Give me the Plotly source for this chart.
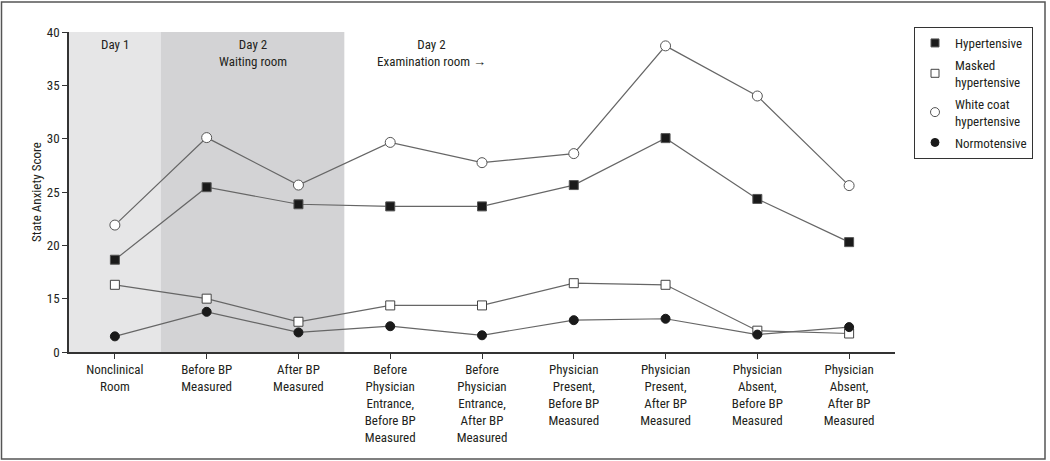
import plotly.graph_objects as go

categories = [
    "Nonclinical<br>Room",
    "Before BP<br>Measured",
    "After BP<br>Measured",
    "Before<br>Physician<br>Entrance,<br>Before BP<br>Measured",
    "Before<br>Physician<br>Entrance,<br>After BP<br>Measured",
    "Physician<br>Present,<br>Before BP<br>Measured",
    "Physician<br>Present,<br>After BP<br>Measured",
    "Physician<br>Absent,<br>Before BP<br>Measured",
    "Physician<br>Absent,<br>After BP<br>Measured",
]
hypertensive = [18.65, 25.45, 23.85, 23.65, 23.65, 25.65, 30.05, 24.35, 20.3]
masked = [16.3, 15.0, 8.5, 13.1, 13.1, 16.45, 16.3, 6.0, 5.2]
white_coat = [21.9, 30.1, 25.65, 29.65, 27.75, 28.6, 38.7, 34.0, 25.6]
normotensive = [4.4, 11.3, 5.5, 7.25, 4.7, 8.95, 9.35, 4.9, 7.0]

tick_values = [0, 15, 20, 25, 30, 35, 40]
tick_labels = ["0", "15", "20", "25", "30", "35", "40"]

FONT = "Liberation Sans Narrow, Arial Narrow, Roboto Condensed, sans-serif"
TXT = "#231f20"
LINE = "#666666"


def to_axis(v):
    # compressed (broken) scale below 15
    return v if v >= 15 else 10 + v / 3.0


xs = list(range(len(categories)))

series = [
    ("Hypertensive", hypertensive, "square", "#1a1a1a", "#555555", 9),
    ("Masked<br>hypertensive", masked, "square", "white", "#444444", 9),
    ("White coat<br>hypertensive", white_coat, "circle", "white", "#555555", 10),
    ("Normotensive", normotensive, "circle", "#1a1a1a", "#1a1a1a", 9),
]

fig = go.Figure()
for name, vals, sym, fill, edge, size in series:
    fig.add_trace(go.Scatter(
        x=xs, y=[to_axis(v) for v in vals], mode="lines+markers",
        line=dict(color=LINE, width=1.2),
        marker=dict(symbol=sym, size=size, color=fill, line=dict(color=edge, width=1)),
        showlegend=False, legendgroup=name, cliponaxis=False,
    ))
for name, vals, sym, fill, edge, size in series:
    fig.add_trace(go.Scatter(
        x=[None], y=[None], mode="markers", name=name, legendgroup=name,
        marker=dict(symbol=sym, size=size - 1, color=fill, line=dict(color=edge, width=1)),
    ))

# background shading
fig.add_shape(type="rect", xref="x", yref="paper", x0=-0.5, x1=0.5, y0=0, y1=1,
              fillcolor="#e6e6e7", line_width=0, layer="below")
fig.add_shape(type="rect", xref="x", yref="paper", x0=0.5, x1=2.5, y0=0, y1=1,
              fillcolor="#d3d3d5", line_width=0, layer="below")
# outer frame
fig.add_shape(type="rect", xref="paper", yref="paper",
              x0=(1.5 - 69) / 826, x1=(1045 - 69) / 826,
              y0=-(459 - 352) / 320, y1=1 + (32 - 2) / 320,
              line=dict(color="#555555", width=1.5), fillcolor="rgba(0,0,0,0)")

ann_font = dict(family=FONT, size=13, color=TXT)
fig.add_annotation(x=0, y=1, xref="x", yref="paper", text="Day 1", showarrow=False,
                   yanchor="top", yshift=-3, font=ann_font)
fig.add_annotation(x=1.5, y=1, xref="x", yref="paper", text="Day 2<br>Waiting room",
                   showarrow=False, yanchor="top", yshift=-3, font=ann_font)
fig.add_annotation(x=3.45, y=1, xref="x", yref="paper", text="Day 2<br>Examination room \u2192",
                   showarrow=False, yanchor="top", yshift=-3, font=ann_font)

fig.update_layout(
    width=1050, height=461,
    margin=dict(l=69, r=155, t=32, b=109, autoexpand=False),
    paper_bgcolor="white", plot_bgcolor="white",
    font=dict(family=FONT, size=13, color=TXT),
    legend=dict(x=(914 - 69) / 826, y=1 + 5 / 320, xanchor="left", yanchor="top",
                bordercolor="#333333", borderwidth=1, bgcolor="white",
                font=dict(family=FONT, size=13, color=TXT),
                itemwidth=30, tracegroupgap=2),
    xaxis=dict(range=[-0.5, 8.5], tickmode="array", tickvals=xs, ticktext=categories,
               showgrid=False, zeroline=False, showline=True, linecolor="#333333",
               linewidth=1.5, ticks="outside", ticklen=5, tickcolor="#333333",
               tickfont=dict(family=FONT, size=13, color=TXT)),
    yaxis=dict(range=[10, 40], tickmode="array",
               tickvals=[to_axis(v) for v in tick_values], ticktext=tick_labels,
               showgrid=False, zeroline=False, showline=True, linecolor="#333333",
               linewidth=1.5, ticks="outside", ticklen=5, tickcolor="#333333",
               title=dict(text="State Anxiety Score", standoff=2,
                          font=dict(family=FONT, size=13, color=TXT)),
               tickfont=dict(family=FONT, size=13, color=TXT)),
)

fig.write_html("out.html", config={"displayModeBar": False},
               post_script="document.body.style.margin='0';document.body.style.padding='0';")
